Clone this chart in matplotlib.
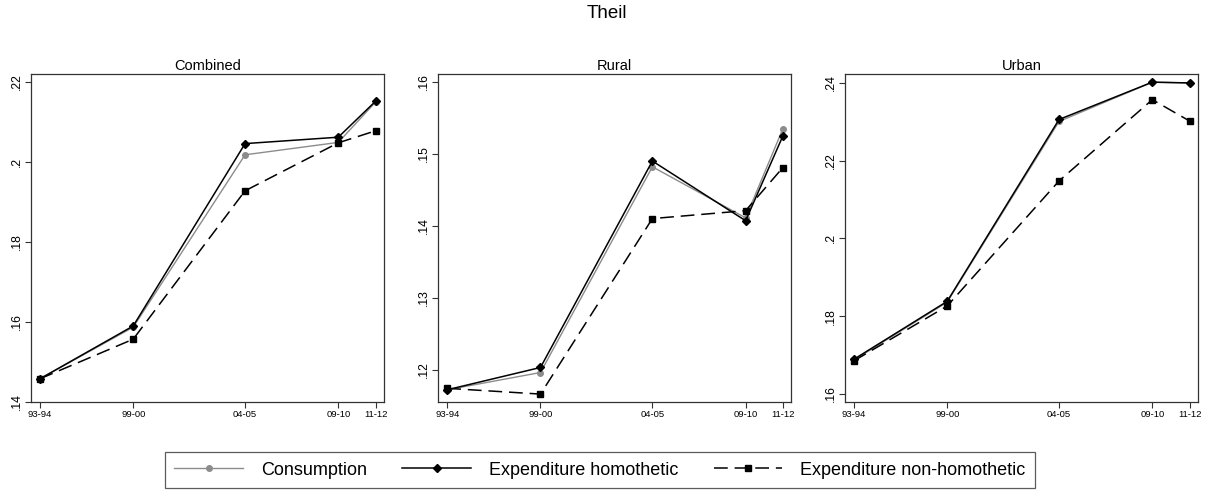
import matplotlib
matplotlib.use("Agg")
import matplotlib.pyplot as plt
from matplotlib.lines import Line2D

plt.rcParams['font.family'] = ['Liberation Sans', 'DejaVu Sans']

rounds = [50, 55, 61, 66, 68]
period_labels = ["93-94", "99-00", "04-05", "09-10", "11-12"]
panels = ["Combined", "Rural", "Urban"]

combined_consumption = [0.1458, 0.1587, 0.2018, 0.2049, 0.2150]
combined_homothetic = [0.1458, 0.1590, 0.2046, 0.2062, 0.2152]
combined_nonhomothetic = [0.1458, 0.1557, 0.1928, 0.2048, 0.2078]

rural_consumption = [0.1172, 0.1196, 0.1482, 0.1411, 0.1535]
rural_homothetic = [0.1172, 0.1203, 0.1490, 0.1407, 0.1525]
rural_nonhomothetic = [0.1174, 0.1166, 0.1410, 0.1421, 0.1481]

urban_consumption = [0.1687, 0.1836, 0.2301, 0.2402, 0.2400]
urban_homothetic = [0.1689, 0.1838, 0.2306, 0.2402, 0.2400]
urban_nonhomothetic = [0.1685, 0.1826, 0.2148, 0.2357, 0.2302]

yticks = {
    "Combined": ([0.14, 0.16, 0.18, 0.20, 0.22], [".14", ".16", ".18", ".2", ".22"], (0.14, 0.222)),
    "Rural": ([0.12, 0.13, 0.14, 0.15, 0.16], [".12", ".13", ".14", ".15", ".16"], (0.1155, 0.1611)),
    "Urban": ([0.16, 0.18, 0.20, 0.22, 0.24], [".16", ".18", ".2", ".22", ".24"], (0.1579, 0.2423)),
}

data = {
    "Combined": (combined_consumption, combined_homothetic, combined_nonhomothetic),
    "Rural": (rural_consumption, rural_homothetic, rural_nonhomothetic),
    "Urban": (urban_consumption, urban_homothetic, urban_nonhomothetic),
}

W, H = 1214, 490
fig = plt.figure(figsize=(W / 100, H / 100), dpi=100)

lefts = [31, 438.3, 845]
ax_w = 353
ax_top = 74
ax_bot = 402

frame_col = "#333333"
gray = "#8c8c8c"
dash = (0, (9, 4.5))

for name, lx in zip(panels, lefts):
    ax = fig.add_axes([lx / W, 1 - ax_bot / H, ax_w / W, (ax_bot - ax_top) / H])
    cons, hom, nonhom = data[name]
    ax.plot(rounds, cons, color=gray, lw=1.0, marker='o', ms=4, mec=gray, mfc=gray, zorder=2)
    ax.plot(rounds, hom, color='black', lw=1.1, marker='D', ms=4.3, zorder=3)
    ax.plot(rounds, nonhom, color='black', lw=1.1, linestyle=dash, marker='s', ms=4.3, zorder=2)
    yt, yl, ylim = yticks[name]
    ax.set_ylim(*ylim)
    ax.set_xlim(49.52, 68.45)
    ax.set_yticks(yt)
    ax.set_yticklabels(yl, rotation=90, va='center', fontsize=8.8)
    ax.set_xticks(rounds)
    ax.set_xticklabels(period_labels, fontsize=6.8)
    ax.tick_params(axis='both', direction='out', length=4, width=0.8, color=frame_col, pad=2)
    for s in ax.spines.values():
        s.set_color(frame_col)
        s.set_linewidth(0.9)
    ax.set_title(name, fontsize=10.5, pad=3)

fig.text(0.5, 1 - 14 / H, "Theil", ha='center', va='center', fontsize=13.5)

handles = [
    Line2D([], [], color=gray, lw=1.0, marker='o', ms=4, mec=gray, mfc=gray),
    Line2D([], [], color='black', lw=1.1, marker='D', ms=4.3),
    Line2D([], [], color='black', lw=1.1, linestyle=dash, marker='s', ms=4.3),
]
labels = ["Consumption", "Expenditure homothetic", "Expenditure non-homothetic"]
leg = fig.legend(handles, labels, loc='center', bbox_to_anchor=(600 / W, 1 - 470 / H),
                 ncol=3, fontsize=13, frameon=True, fancybox=False, handlelength=3.8,
                 columnspacing=1.95, handletextpad=1.0, borderpad=0.5, borderaxespad=0,
                 edgecolor=frame_col)
leg.get_frame().set_linewidth(0.9)

fig.savefig("out.png", dpi=100)
